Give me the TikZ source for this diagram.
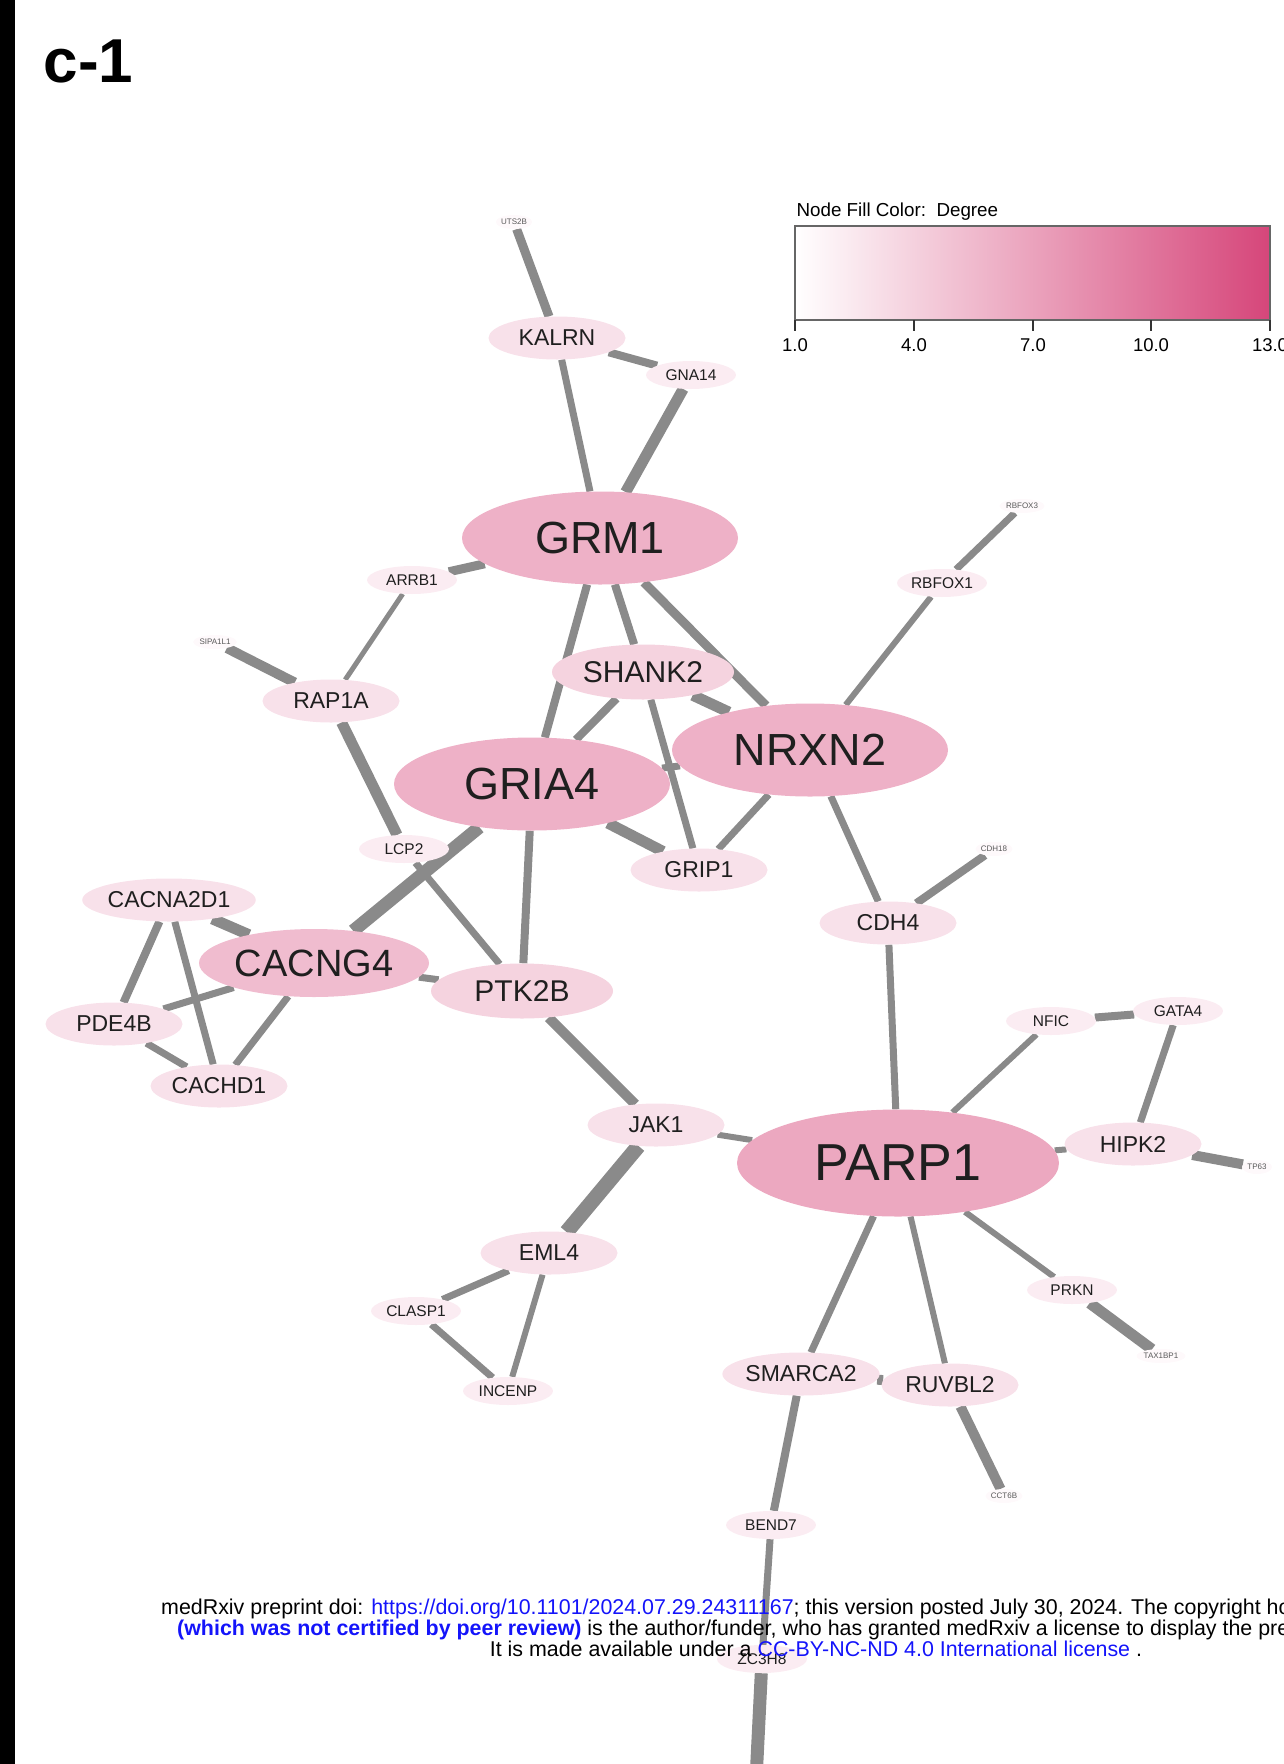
\documentclass[tikz,border=0pt]{standalone}
\usepackage{fontspec}
\setmainfont{Liberation Sans}
\usetikzlibrary{shapes.geometric,backgrounds}
\definecolor{degmax}{RGB}{214,70,122}
\colorlet{deg7}{degmax!47!white}
\colorlet{deg6}{degmax!42!white}
\colorlet{deg5}{degmax!36!white}
\colorlet{deg4}{degmax!24!white}
\colorlet{deg3}{degmax!16!white}
\colorlet{deg2}{degmax!10!white}
\colorlet{deg1}{degmax!3!white}
\definecolor{edgegray}{RGB}{138,138,138}
\definecolor{linkblue}{RGB}{20,20,250}
\newcommand{\fsz}[1]{\fontsize{#1}{#1}\selectfont}
\tikzset{gene/.style = {ellipse, draw=none, inner sep=0pt, text=black!88},
  leaf/.style = {gene, fill=deg1, minimum width=30, minimum height=14, font=\fsz{8}, text=black!65},
  small/.style = {gene, fill=deg2, minimum width=90, minimum height=28, font=\fsz{15.5}},
  mid/.style = {gene, fill=deg3, minimum width=137, minimum height=43, font=\fsz{23}},
  big/.style = {gene, fill=deg4, minimum width=182, minimum height=55, font=\fsz{30}},
  large/.style = {gene, fill=deg5, minimum width=230, minimum height=68, font=\fsz{38}},
  hub/.style = {gene, fill=deg6, minimum width=276, minimum height=93, font=\fsz{45}},
  edge/.style = {draw=edgegray},
  stamp/.style = {font=\fsz{21.4}, inner sep=0pt}}
\begin{document}
\begin{tikzpicture}[x=1pt, y=-1pt]
  \useasboundingbox (0,0) rectangle (1283,1764);
  \fill[black] (0,0) rectangle (15,1764);
  \node[anchor=base west, font=\bfseries\fsz{62}] (title) at (40,82) {c-1};
  % legend
  \node[anchor=west, font=\fsz{18.8}] (legtitle) at (793,212) {Node Fill Color:\ \ Degree};
  \shade[left color=white, right color=degmax] (795,226) rectangle (1270,320);
  \draw[black!60, line width=1.3] (795,226) rectangle (1270,320);
  \foreach \x/\t in {795/1.0, 914/4.0, 1033/7.0, 1151/10.0, 1270/13.0}
    \draw[black!80, line width=2] (\x,320) -- (\x,331) node[below=3pt, font=\fsz{18.5}, black] {\t};
  % genes
  \node[leaf] (UTS2B) at (514,222) {UTS2B};
  \node[mid] (KALRN) at (557,338) {KALRN};
  \node[small] (GNA14) at (691,375) {GNA14};
  \node[hub] (GRM1) at (600,538) {GRM1};
  \node[small] (ARRB1) at (412,580) {ARRB1};
  \node[leaf] (SIPA1L1) at (215,642) {SIPA1L1};
  \node[mid] (RAP1A) at (331,701) {RAP1A};
  \node[big] (SHANK2) at (643,672) {SHANK2};
  \node[hub] (NRXN2) at (810,750) {NRXN2};
  \node[hub] (GRIA4) at (532,784) {GRIA4};
  \node[leaf] (RBFOX3) at (1022,506) {RBFOX3};
  \node[small] (RBFOX1) at (942,583) {RBFOX1};
  \node[small] (LCP2) at (404,849) {LCP2};
  \node[mid] (GRIP1) at (699,870) {GRIP1};
  \node[leaf] (CDH18) at (994,849) {CDH18};
  \node[mid] (CDH4) at (888,923) {CDH4};
  \node[mid] (CACNA2D1) at (169,900) {CACNA2D1};
  \node[large] (CACNG4) at (314,963) {CACNG4};
  \node[big] (PTK2B) at (522,991) {PTK2B};
  \node[mid] (PDE4B) at (114,1024) {PDE4B};
  \node[mid] (CACHD1) at (219,1086) {CACHD1};
  \node[small] (NFIC) at (1051,1021) {NFIC};
  \node[small] (GATA4) at (1178,1011) {GATA4};
  \node[mid] (JAK1) at (656,1125) {JAK1};
  \node[hub, fill=deg7, minimum width=322, minimum height=107, font=\fsz{52}] (PARP1) at (898,1163) {PARP1};
  \node[mid] (HIPK2) at (1133,1144) {HIPK2};
  \node[leaf] (TP63) at (1257,1167) {TP63};
  \node[mid] (EML4) at (549,1253) {EML4};
  \node[small] (CLASP1) at (416,1311) {CLASP1};
  \node[small] (PRKN) at (1072,1290) {PRKN};
  \node[leaf] (TAX1BP1) at (1161,1356) {TAX1BP1};
  \node[small] (INCENP) at (508,1391) {INCENP};
  \node[mid] (SMARCA2) at (801,1374) {SMARCA2};
  \node[mid] (RUVBL2) at (950,1385) {RUVBL2};
  \node[leaf] (CCT6B) at (1004,1496) {CCT6B};
  \node[small] (BEND7) at (771,1525) {BEND7};
  \node[small] (ZC3H8) at (762,1659) {ZC3H8};
  \coordinate (offpage) at (755,1800);
  % interactions
  \begin{pgfonlayer}{background}
    \foreach \a/\b/\w in {UTS2B/KALRN/9, KALRN/GNA14/8, KALRN/GRM1/7, GNA14/GRM1/11,
        GRM1/ARRB1/9, ARRB1/RAP1A/5, SIPA1L1/RAP1A/10, RAP1A/LCP2/11,
        GRM1/SHANK2/8, GRM1/GRIA4/8, GRM1/NRXN2/9, SHANK2/NRXN2/11,
        SHANK2/GRIA4/8, SHANK2/GRIP1/7, GRIA4/NRXN2/7, GRIA4/GRIP1/11,
        NRXN2/GRIP1/7, NRXN2/RBFOX1/6, RBFOX1/RBFOX3/7, NRXN2/CDH4/7,
        CDH4/CDH18/8, CDH4/PARP1/7, GRIA4/CACNG4/13, GRIA4/PTK2B/8,
        LCP2/PTK2B/7, CACNA2D1/CACNG4/11, CACNA2D1/PDE4B/8, CACNA2D1/CACHD1/7,
        CACNG4/PDE4B/7, CACNG4/CACHD1/7, PDE4B/CACHD1/7, CACNG4/PTK2B/7,
        PTK2B/JAK1/10, JAK1/PARP1/6, JAK1/EML4/15, EML4/CLASP1/7,
        EML4/INCENP/6, CLASP1/INCENP/7, PARP1/NFIC/6, NFIC/GATA4/8,
        GATA4/HIPK2/7, PARP1/HIPK2/6, HIPK2/TP63/10, PARP1/PRKN/6,
        PRKN/TAX1BP1/11, PARP1/SMARCA2/7, PARP1/RUVBL2/6, SMARCA2/RUVBL2/10,
        RUVBL2/CCT6B/10, SMARCA2/BEND7/8, BEND7/ZC3H8/7, ZC3H8/offpage/13}
      \draw[edge, line width=\w] (\a) -- (\b);
  \end{pgfonlayer}
  % preprint stamp
  \node[stamp, anchor=base west] (stampA) at (161,1614)
    {medRxiv preprint doi: \textcolor{linkblue}{https://doi.org/10.1101/2024.07.29.24311167}; this version posted July 30, 2024. The copyright ho};
  \node[stamp, anchor=base west] (stampB) at (177,1635)
    {\textcolor{linkblue}{\bfseries (which was not certified by peer review)} is the author/funder, who has granted medRxiv a license to display the pre};
  \node[stamp, anchor=base] (stampC) at (816,1656)
    {It is made available under a \textcolor{linkblue}{CC-BY-NC-ND 4.0 International license} .};
\end{tikzpicture}
\end{document}
